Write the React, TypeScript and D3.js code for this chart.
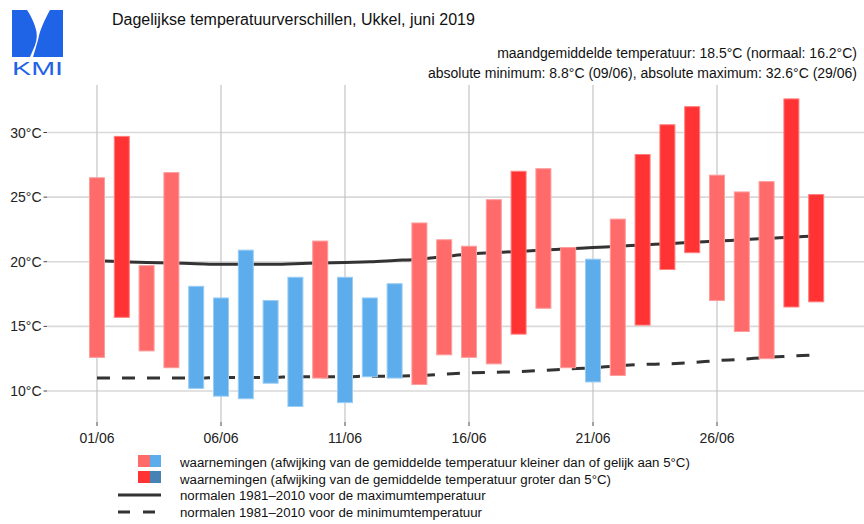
import React from "react";
import * as d3 from "d3";

const days = d3.range(1, 31);
const tmax = [26.5, 29.7, 19.7, 26.9, 18.1, 17.2, 20.9, 17.0, 18.8, 21.6, 18.8, 17.2, 18.3, 23.0, 21.7, 21.2, 24.8, 27.0, 27.2, 21.1, 20.2, 23.3, 28.3, 30.6, 32.0, 26.7, 25.4, 26.2, 32.6, 25.2];
const tmin = [12.6, 15.7, 13.1, 11.8, 10.2, 9.6, 9.4, 10.6, 8.8, 11.0, 9.1, 11.1, 11.0, 10.5, 12.8, 12.6, 12.1, 14.4, 16.4, 11.8, 10.7, 11.2, 15.1, 19.4, 20.7, 17.0, 14.6, 12.5, 16.5, 16.9];
// r = warmer (<=5), R = warmer (>5), b = colder (<=5), B = colder (>5)
const classes = ["r", "R", "r", "r", "b", "b", "b", "b", "b", "r", "b", "b", "b", "r", "r", "r", "r", "R", "r", "r", "b", "r", "R", "R", "R", "r", "r", "r", "R", "R"];
const normMax = [20.1, 20.0, 19.95, 19.9, 19.85, 19.8, 19.8, 19.8, 19.85, 19.9, 19.95, 20.0, 20.1, 20.2, 20.4, 20.6, 20.7, 20.8, 20.9, 21.0, 21.1, 21.2, 21.3, 21.4, 21.5, 21.6, 21.7, 21.8, 21.9, 22.0];
const normMin = [11.0, 11.0, 11.0, 11.0, 11.0, 11.05, 11.05, 11.05, 11.1, 11.1, 11.1, 11.15, 11.15, 11.2, 11.3, 11.4, 11.45, 11.5, 11.6, 11.7, 11.8, 11.95, 12.05, 12.1, 12.2, 12.35, 12.45, 12.6, 12.7, 12.8];
const yTicks = [10, 15, 20, 25, 30];
const xTicks = [1, 6, 11, 16, 21, 26];
const xTickLabels = ["01/06", "06/06", "11/06", "16/06", "21/06", "26/06"];

const title = "Dagelijkse temperatuurverschillen, Ukkel, juni 2019";
const info1 = "maandgemiddelde temperatuur: 18.5°C (normaal: 16.2°C)";
const info2 = "absolute minimum: 8.8°C (09/06), absolute maximum: 32.6°C (29/06)";
const legendLabels = [
  "waarnemingen (afwijking van de gemiddelde temperatuur kleiner dan of gelijk aan 5°C)",
  "waarnemingen (afwijking van de gemiddelde temperatuur groter dan 5°C)",
  "normalen 1981\u20132010 voor de maximumtemperatuur",
  "normalen 1981\u20132010 voor de minimumtemperatuur",
];

const colors: Record<string, string> = {
  r: "#ff6b6b",
  R: "#ff3333",
  b: "#5dadec",
  B: "#4682b4",
};
const strokes: Record<string, string> = {
  r: "#ff9c9c",
  R: "#ff7d7d",
  b: "#9ccdf3",
  B: "#86aed0",
};

const FONT = "'Liberation Sans', Arial, Helvetica, sans-serif";

export default function App() {
  const W = 864;
  const H = 524;
  const x = d3.scaleLinear().domain([1, 30]).range([97, 816.2]);
  const y = d3.scaleLinear().domain([10, 30]).range([391, 132.5]);
  const plotLeft = 47;
  const plotRight = 864;
  const plotTop = 85;
  const plotBottom = 422;
  const barW = 15;

  const line = d3
    .line<number>()
    .x((_, i) => x(days[i]))
    .y((d) => y(d))
    .curve(d3.curveMonotoneX);

  return (
    <svg
      width={W}
      height={H}
      style={{ position: "absolute", left: 0, top: 0, background: "#fff" }}
      fontFamily={FONT}
    >
      {/* Logo */}
      <g>
        <rect x={12} y={10} width={51} height={47} fill="#1f63e6" />
        <path
          d="M27,10 C31,16 35,24 36.5,32 C37.5,38 36,44 33,50 L30,57 L33,57 C35,50 37,44 38.5,38 C40,30 44,21 50,10 Z"
          fill="#fff"
        />
        <text
          x={12}
          y={75}
          fontSize={19}
          fill="#1f63e6"
          textLength={51}
          lengthAdjust="spacingAndGlyphs"
          fontFamily={FONT}
        >
          KMI
        </text>
      </g>

      {/* Titles */}
      <text x={112} y={25} fontSize={16} fill="#111">
        {title}
      </text>
      <text x={857} y={58} fontSize={14} fill="#111" textAnchor="end">
        {info1}
      </text>
      <text x={857} y={78} fontSize={14} fill="#111" textAnchor="end">
        {info2}
      </text>

      {/* Gridlines */}
      {yTicks.map((t) => (
        <g key={"y" + t}>
          <line x1={plotLeft} x2={plotRight} y1={y(t)} y2={y(t)} stroke="#d9d9d9" strokeWidth={1.6} />
          <line x1={43.5} x2={47} y1={y(t)} y2={y(t)} stroke="#444" strokeWidth={1} />
          <text x={41.5} y={y(t) + 5} fontSize={14} fill="#222" textAnchor="end">
            {t}°C
          </text>
        </g>
      ))}
      {xTicks.map((t, i) => (
        <g key={"x" + t}>
          <line x1={x(t)} x2={x(t)} y1={plotTop} y2={plotBottom} stroke="#c4c4c4" strokeWidth={1.2} />
          <line x1={x(t)} x2={x(t)} y1={plotBottom} y2={plotBottom + 4} stroke="#444" strokeWidth={1} />
          <text x={x(t)} y={443} fontSize={14} fill="#222" textAnchor="middle">
            {xTickLabels[i]}
          </text>
        </g>
      ))}

      {/* Normals */}
      <path d={line(normMax) || ""} fill="none" stroke="#333" strokeWidth={3} />
      <path
        d={line(normMin) || ""}
        fill="none"
        stroke="#333"
        strokeWidth={3}
        strokeDasharray="13,12"
      />

      {/* Bars */}
      {days.map((d, i) => (
        <rect
          key={"b" + d}
          x={x(d) - barW / 2}
          y={y(tmax[i])}
          width={barW}
          height={y(tmin[i]) - y(tmax[i])}
          fill={colors[classes[i]]}
          stroke={strokes[classes[i]]}
          strokeWidth={1}
        />
      ))}

      {/* Legend */}
      <g>
        <rect x={138} y={455} width={12} height={12} fill={colors.r} />
        <rect x={150} y={455} width={11} height={12} fill={colors.b} />
        <rect x={138} y={471} width={12} height={12} fill={colors.R} />
        <rect x={150} y={471} width={11} height={12} fill={colors.B} />
        <line x1={118} x2={161} y1={495} y2={495} stroke="#333" strokeWidth={3} />
        <line x1={118} x2={161} y1={512} y2={512} stroke="#333" strokeWidth={3} strokeDasharray="12,13" />
        {legendLabels.map((l, i) => (
          <text key={"l" + i} x={180} y={467 + i * 16.5} fontSize={13.25} fill="#111">
            {l}
          </text>
        ))}
      </g>
    </svg>
  );
}
